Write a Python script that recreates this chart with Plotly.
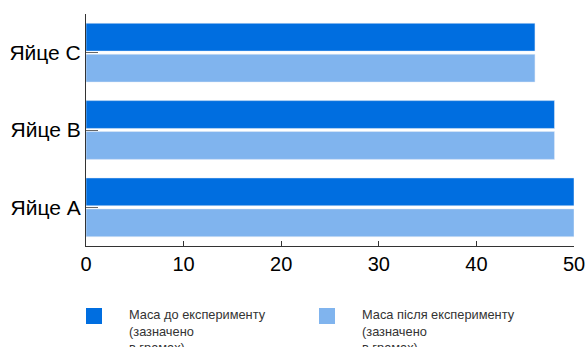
import plotly.graph_objects as go

# Egg masses before and after the experiment (grams)
eggs = ["Яйце A", "Яйце B", "Яйце C"]
mass_before = [50, 48, 46]
mass_after = [50, 48, 46]

series_names = [
    "Маса до експерименту<br>(зазначено<br>в грамах)",
    "Маса після експерименту<br>(зазначено<br>в грамах)",
]
colors = ["#006EE0", "#80B4EE"]

fig = go.Figure()
# the "after" trace is added first so the "before" bar sits on top within each group
fig.add_trace(go.Bar(y=eggs, x=mass_after, orientation="h", marker_color=colors[1],
                     name=series_names[1], showlegend=False))
fig.add_trace(go.Bar(y=eggs, x=mass_before, orientation="h", marker_color=colors[0],
                     name=series_names[0], showlegend=False))

W, H = 587, 347
ml, mr, mt, mb = 86, 13, 14, 101

fig.update_layout(
    width=W, height=H,
    margin=dict(l=ml, r=mr, t=mt, b=mb, pad=0, autoexpand=False),
    paper_bgcolor="white", plot_bgcolor="white",
    barmode="group", bargap=0.2, bargroupgap=0.1,
    font=dict(family="Liberation Sans", color="#000000"),
    xaxis=dict(range=[0, 50], tickvals=[0, 10, 20, 30, 40, 50], showgrid=False,
               zeroline=False, showline=True, linecolor="#333333", linewidth=1,
               ticks="inside", ticklen=5, tickcolor="#333333",
               tickfont=dict(size=20), automargin=False),
    yaxis=dict(categoryorder="array", categoryarray=eggs, showgrid=False,
               zeroline=False, showline=True, linecolor="#333333", linewidth=1,
               ticks="inside", ticklen=12, tickcolor="#666666",
               tickfont=dict(size=21), automargin=False),
)

# legend drawn below the plot: square swatches and wrapped labels
legend_x = [86, 319]
text_x = [127, 360]
sw_top, sw_size = 308, 16
for i in range(2):
    fig.add_shape(type="rect", xref="paper", yref="paper",
                  x0=(legend_x[i] - ml) / (W - ml - mr),
                  x1=(legend_x[i] + sw_size - ml) / (W - ml - mr),
                  y0=(H - mb - sw_top) / (H - mt - mb),
                  y1=(H - mb - sw_top - sw_size) / (H - mt - mb),
                  fillcolor=colors[i], line_width=0)
    fig.add_annotation(xref="paper", yref="paper",
                       x=(text_x[i] - ml) / (W - ml - mr),
                       y=(H - mb - 305) / (H - mt - mb),
                       xanchor="left", yanchor="top", align="left",
                       showarrow=False, text=series_names[i],
                       font=dict(size=12.8, color="#333333"))

fig.write_html("out.html")
